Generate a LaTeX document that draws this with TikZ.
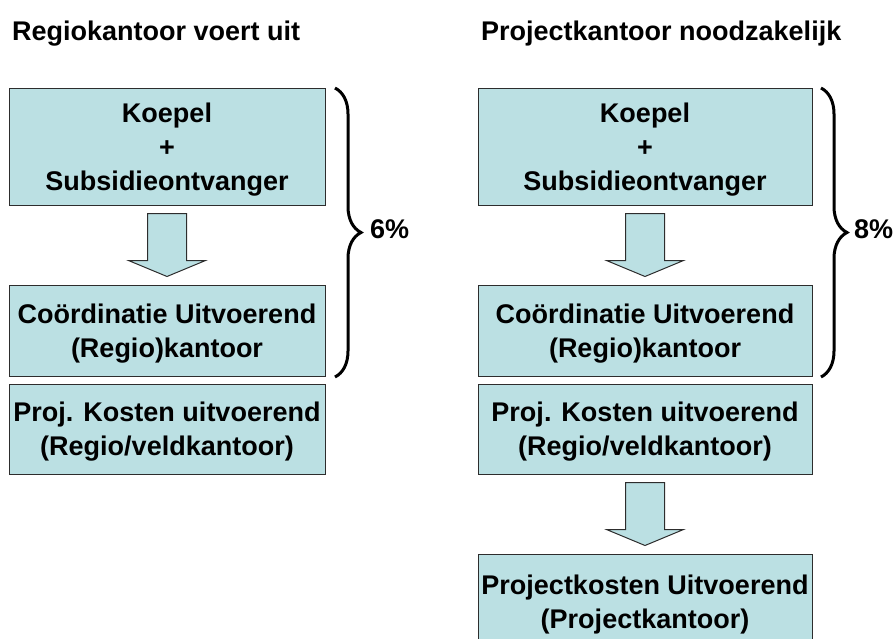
\documentclass[tikz,border=0pt]{standalone}
\usepackage{fontspec}
\setmainfont{Liberation Sans}
\usetikzlibrary{calc,decorations.pathreplacing}
\definecolor{boxblue}{RGB}{187,224,227}
\definecolor{edgegray}{RGB}{45,45,45}
\tikzset{
	kantoor/.style={draw=edgegray, fill=boxblue, line width=1pt, align=center, inner sep=0pt, text depth=0pt, font=\fontsize{27}{34}\selectfont\bfseries},
	kop/.style={anchor=base west, inner sep=0pt, font=\fontsize{27}{32}\selectfont\bfseries},
	accolade/.style={decorate, decoration={brace, amplitude=26pt}, line width=3pt},
	percent/.style={anchor=base west, inner sep=0pt, font=\fontsize{27}{32}\selectfont\bfseries},
	blokpijl/.style={draw=edgegray, fill=boxblue, line width=1pt},
}
% block arrow from the bottom of one box to the top of the next
\newcommand{\pijl}[2]{%
	\draw[blokpijl] ($(#1.south)+(-19.5,8)$) -- ($(#2.north)+(-19.5,-24)$) -- ($(#2.north)+(-38.5,-24)$)
		-- ($(#2.north)+(0,-8)$) -- ($(#2.north)+(38.5,-24)$) -- ($(#2.north)+(19.5,-24)$)
		-- ($(#1.south)+(19.5,8)$) -- cycle;}
\begin{document}
\begin{tikzpicture}[x=1pt,y=-1pt]
	\useasboundingbox (0,0) rectangle (896,638);
	\clip (0,0) rectangle (896,638);
	% left: regiokantoor
	\node[kop] (kopL) at (12,40) {Regiokantoor voert uit};
	\node[kantoor, minimum width=316pt, minimum height=117pt] (koepelL) at (167,146.5) {Koepel\\+\\Subsidieontvanger};
	\node[kantoor, minimum width=316pt, minimum height=91pt] (coordL) at (167,330.5) {Coördinatie Uitvoerend\\(Regio)kantoor};
	\node[kantoor, minimum width=316pt, minimum height=90pt] (kostenL) at (167,429) {Proj. Kosten uitvoerend\\(Regio/veldkantoor)};
	\pijl{koepelL}{coordL}
	\draw[accolade] (335,88) -- (335,377);
	\node[percent] (pctL) at (370,238) {6\%};
	% right: projectkantoor
	\node[kop] (kopR) at (481,40) {Projectkantoor noodzakelijk};
	\node[kantoor, minimum width=334pt, minimum height=117pt] (koepelR) at (645,146.5) {Koepel\\+\\Subsidieontvanger};
	\node[kantoor, minimum width=334pt, minimum height=91pt] (coordR) at (645,330.5) {Coördinatie Uitvoerend\\(Regio)kantoor};
	\node[kantoor, minimum width=334pt, minimum height=90pt] (kostenR) at (645,429) {Proj. Kosten uitvoerend\\(Regio/veldkantoor)};
	\node[kantoor, minimum width=334pt, minimum height=95pt] (projR) at (645,601.5) {Projectkosten Uitvoerend\\(Projectkantoor)};
	\pijl{koepelR}{coordR}
	\pijl{kostenR}{projR}
	\draw[accolade] (821,88) -- (821,377);
	\node[percent] (pctR) at (854,238) {8\%};
\end{tikzpicture}
\end{document}
